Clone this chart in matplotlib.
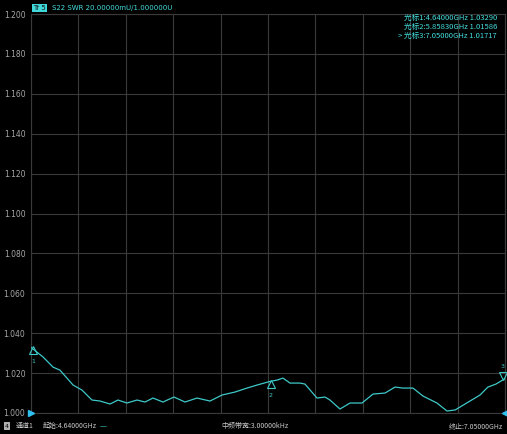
import numpy as np
import matplotlib
matplotlib.use("Agg")
import matplotlib.pyplot as plt

plt.rcParams['font.family'] = ['DejaVu Sans', 'Noto Sans CJK SC']

# trace S22 SWR (frequence en GHz, valeur SWR)
freq = [4.640, 4.701, 4.752, 4.787, 4.854, 4.899, 4.950, 4.991, 5.042, 5.082,
        5.128, 5.179, 5.220, 5.260, 5.311, 5.367, 5.423, 5.484, 5.550, 5.611,
        5.677, 5.738, 5.789, 5.858, 5.891, 5.921, 5.957, 6.008, 6.033, 6.094,
        6.135, 6.160, 6.211, 6.262, 6.323, 6.379, 6.440, 6.491, 6.531, 6.582,
        6.633, 6.704, 6.755, 6.796, 6.872, 6.923, 6.963, 7.004, 7.050]
swr = [1.0329, 1.0281, 1.0230, 1.0215, 1.0140, 1.0115, 1.0065, 1.0060, 1.0045, 1.0065,
       1.0050, 1.0065, 1.0055, 1.0075, 1.0055, 1.0080, 1.0055, 1.0075, 1.0060, 1.0090,
       1.0105, 1.0125, 1.0140, 1.0159, 1.0165, 1.0175, 1.0150, 1.0150, 1.0145, 1.0075,
       1.0080, 1.0065, 1.0020, 1.0050, 1.0050, 1.0095, 1.0100, 1.0130, 1.0125, 1.0125,
       1.0085, 1.0050, 1.0010, 1.0015, 1.0060, 1.0090, 1.0130, 1.0145, 1.0172]

# marqueurs
mk_freq = [4.64000, 5.85830, 7.05000]
mk_val = [1.03290, 1.01586, 1.01717]
mk_labels = ["光标1:4.64000GHz 1.03290", "光标2:5.85830GHz 1.01586", "> 光标3:7.05000GHz 1.01717"]

yticks = [1.000, 1.020, 1.040, 1.060, 1.080, 1.100, 1.120, 1.140, 1.160, 1.180, 1.200]
f_start, f_stop = 4.64, 7.05

W, H = 507, 434
fig = plt.figure(figsize=(W / 100, H / 100), dpi=100, facecolor='black')
ax = fig.add_axes([31 / W, (H - 413) / H, (505 - 31) / W, (413 - 14) / H])
ax.set_facecolor('black')

cyan = '#3ec8c8'
txt_cyan = '#45dede'
grid_c = '#3a3a3a'
cjk = ['Noto Sans CJK SC', 'DejaVu Sans']

ax.set_xlim(f_start, f_stop)
ax.set_ylim(1.0, 1.2)
ax.set_xticks(np.linspace(f_start, f_stop, 11))
ax.set_xticklabels([])
ax.set_yticks(yticks)
ax.set_yticklabels(["%.3f" % v for v in yticks])
ax.tick_params(axis='y', length=0, pad=4, labelsize=5.5, labelcolor='#a8a8a8')
ax.tick_params(axis='x', length=0)
ax.grid(True, color=grid_c, linewidth=0.8)
for s in ax.spines.values():
    s.set_color(grid_c)
    s.set_linewidth(0.8)

ax.plot(freq, swr, color=cyan, linewidth=0.9, zorder=3)

# triangles des marqueurs (pointe sur la trace)
def marqueur(f, v, up, lab):
    if up:
        ax.annotate("", (f, v), xytext=(0, 0), textcoords='offset points')
        ax.plot(f, v, marker='^', markersize=6, markerfacecolor='none',
                markeredgecolor=cyan, markeredgewidth=0.8, linestyle='none',
                zorder=4, clip_on=False,
                transform=ax.transData + matplotlib.transforms.ScaledTranslation(0, -3 / 100, fig.dpi_scale_trans))
        ax.annotate(lab, (f, v), xytext=(0, -10), textcoords='offset points', color=cyan,
                    fontsize=4.5, ha='center', va='center', annotation_clip=False)
    else:
        ax.plot(f, v, marker='v', markersize=6, markerfacecolor='none',
                markeredgecolor=cyan, markeredgewidth=0.8, linestyle='none',
                zorder=4, clip_on=False,
                transform=ax.transData + matplotlib.transforms.ScaledTranslation(0, 3 / 100, fig.dpi_scale_trans))
        ax.annotate(lab, (f, v), xytext=(0, 9), textcoords='offset points', color=cyan,
                    fontsize=4.5, ha='center', va='center', annotation_clip=False)

marqueur(mk_freq[0] + 0.01, mk_val[0], True, "1")
marqueur(mk_freq[1], mk_val[1], True, "2")
marqueur(mk_freq[2] - 0.012, mk_val[2], False, "3")

# petits triangles de reference
ax.plot(f_start, 1.0, marker='>', markersize=4, color='#30c0f0', clip_on=False, zorder=5)
ax.plot(f_stop, 1.0, marker='<', markersize=4, color='#30c0f0', clip_on=False, zorder=5)

# texte des marqueurs en haut a droite
for i, lab in enumerate(mk_labels):
    fig.text(497 / W, 1 - (18 + 9 * i) / H, lab, color=txt_cyan, fontsize=5.5,
             ha='right', va='center', family=cjk)

# en-tete
fig.text(33 / W, 1 - 8 / H, "Tr 5", color='#101010', fontsize=5, ha='left', va='center',
         bbox=dict(boxstyle='square,pad=0.15', facecolor='#40d8d8', edgecolor='none'))
fig.text(52 / W, 1 - 8 / H, "S22 SWR 20.00000mU/1.000000U", color=txt_cyan, fontsize=5,
         ha='left', va='center')

# barre du bas
fig.text(5 / W, 1 - 426 / H, "4", color='black', fontsize=4.5, ha='left', va='center',
         bbox=dict(boxstyle='square,pad=0.2', facecolor='#b0b0b0', edgecolor='none'))
fig.text(16 / W, 1 - 426 / H, "通道1", color='#c8c8c8', fontsize=5, ha='left', va='center',
         family=cjk)
fig.text(43 / W, 1 - 426 / H, "起始:4.64000GHz", color='#c8c8c8', fontsize=5, ha='left',
         va='center', family=cjk)
fig.text(100 / W, 1 - 426 / H, "—", color=txt_cyan, fontsize=5, ha='left', va='center')
fig.text(255 / W, 1 - 426 / H, "中频带宽:3.00000kHz", color='#c8c8c8', fontsize=5,
         ha='center', va='center', family=cjk)
fig.text(503 / W, 1 - 426 / H, "终止:7.05000GHz", color='#c8c8c8', fontsize=5, ha='right',
         va='center', family=cjk)

fig.savefig("out.png", dpi=100, facecolor='black')
